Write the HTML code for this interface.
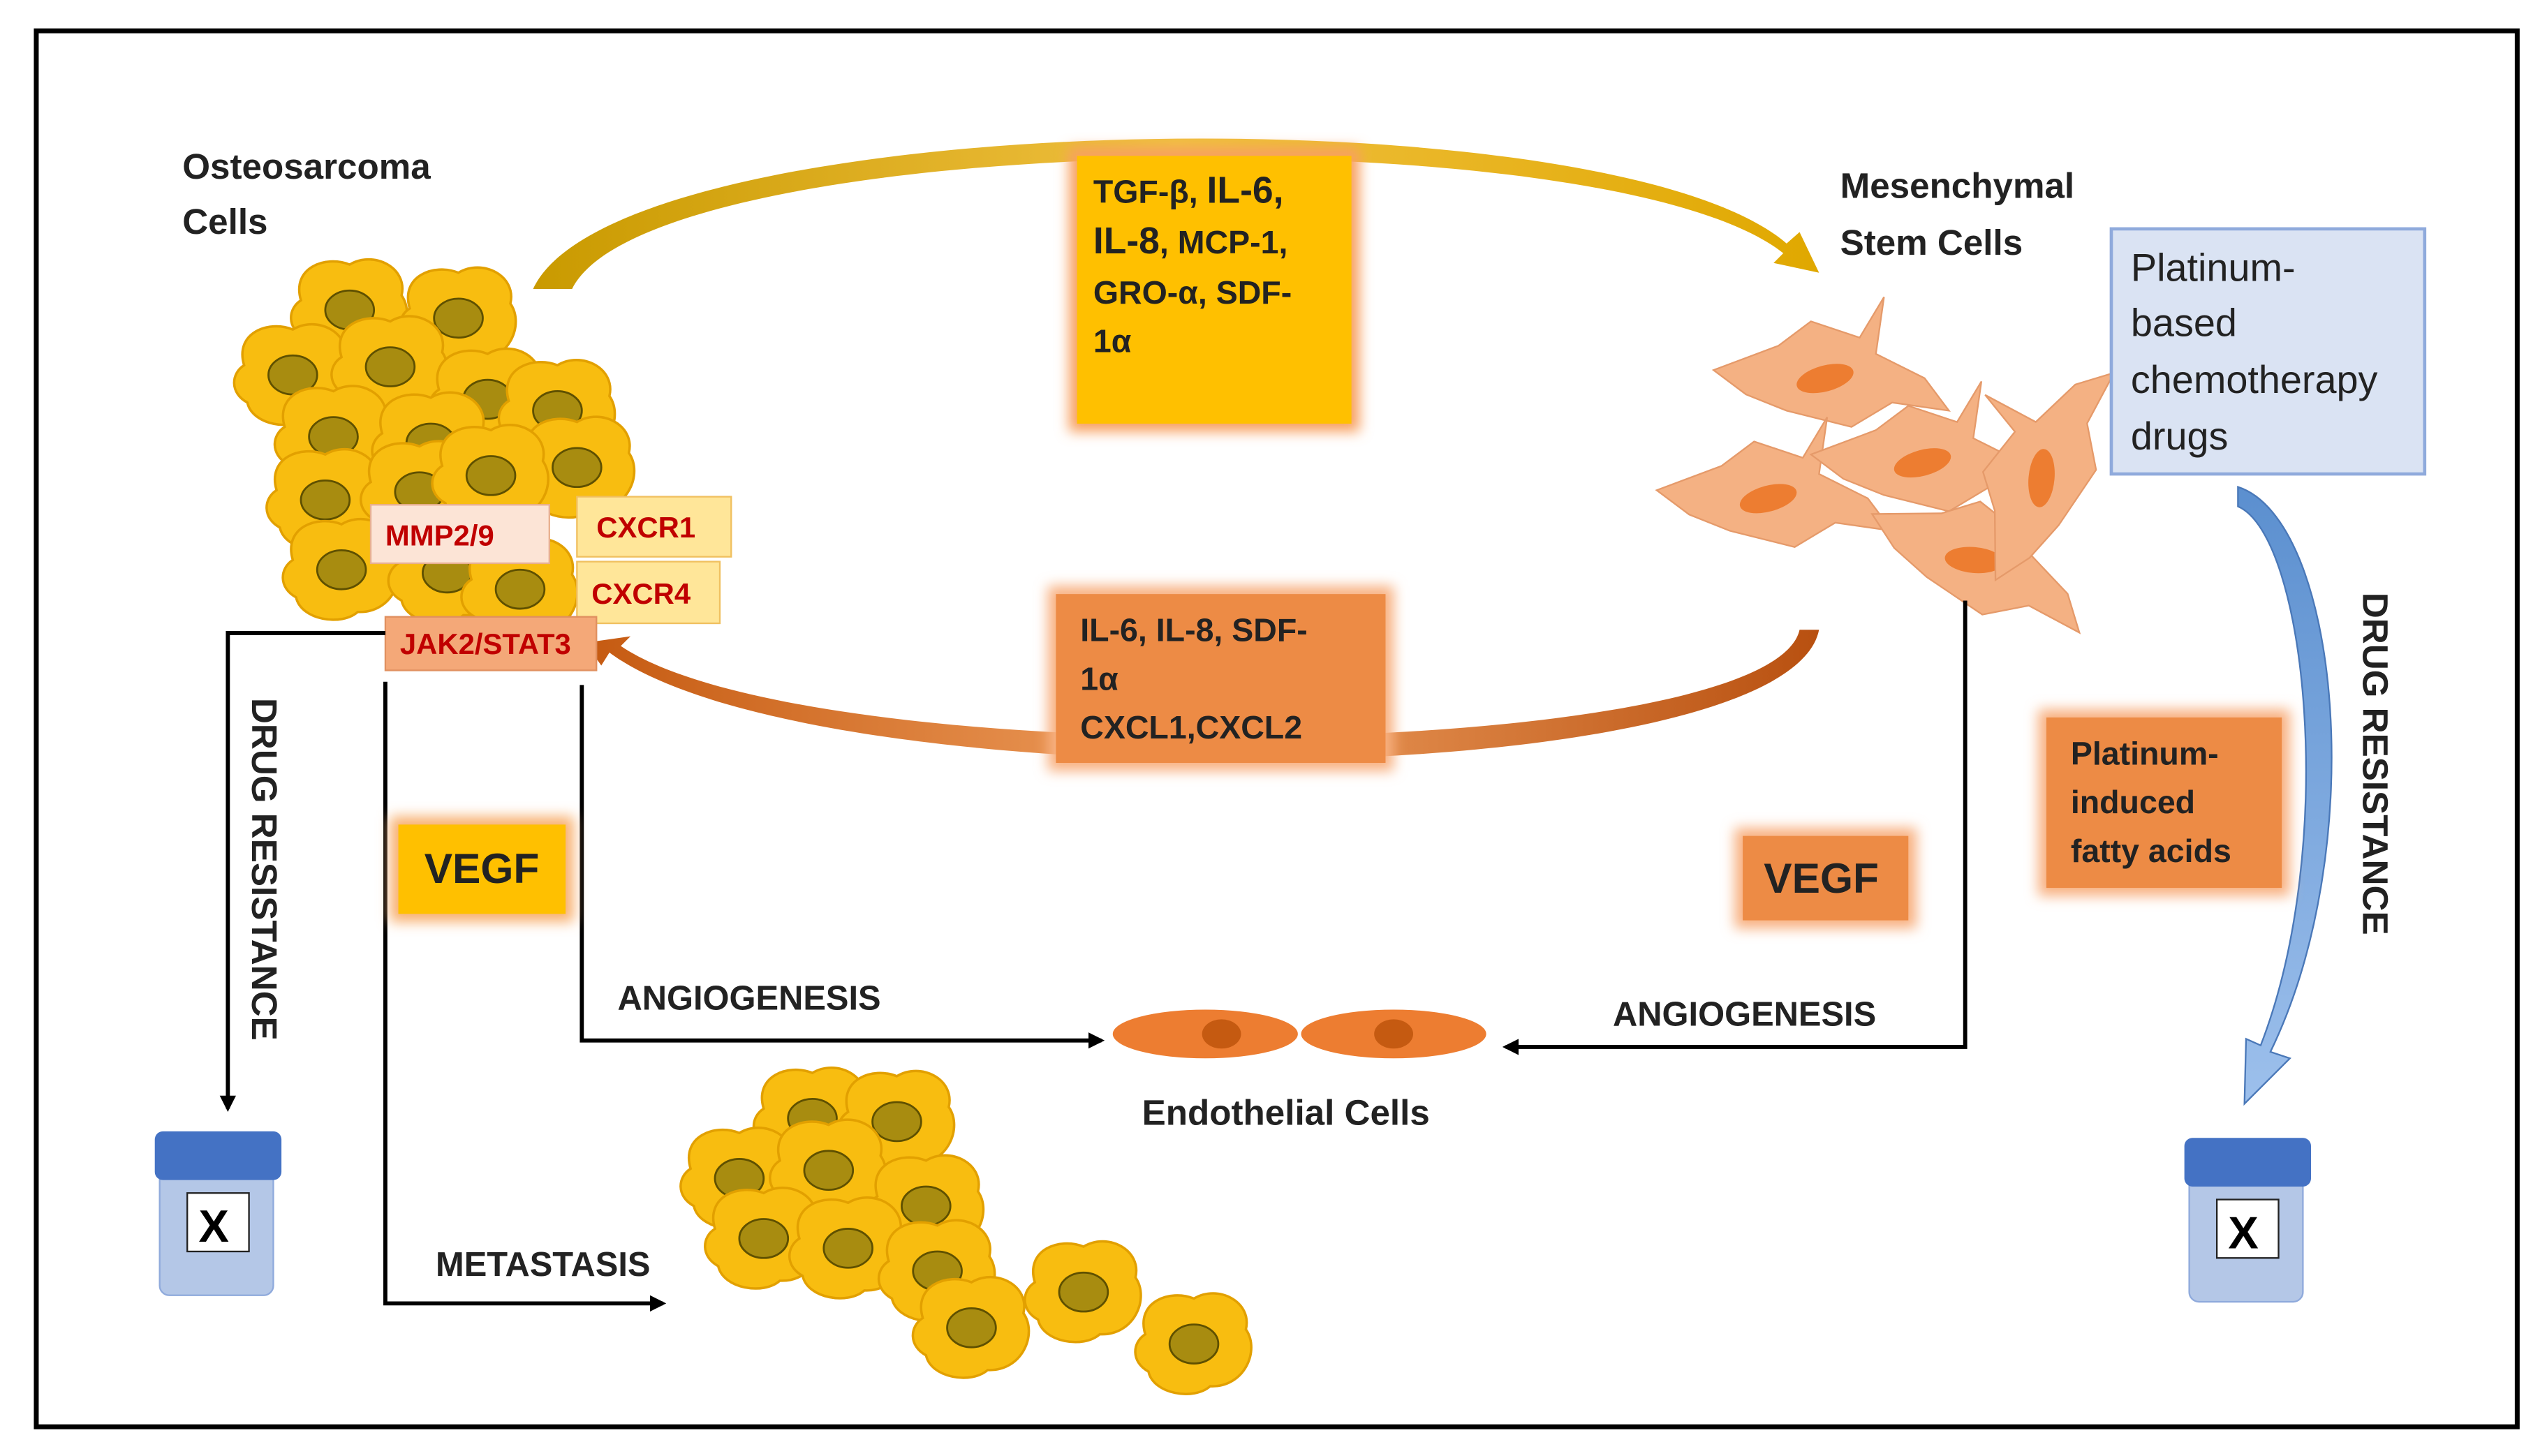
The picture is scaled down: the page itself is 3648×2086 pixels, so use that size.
<!DOCTYPE html>
<html><head><meta charset="utf-8"><style>
html,body{margin:0;padding:0;background:#fff;}
svg{display:block;}
text{font-family:"Liberation Sans",sans-serif;}
</style></head><body>
<svg width="3648" height="2086" viewBox="0 0 1568 897" xmlns="http://www.w3.org/2000/svg">
<defs>
<g id="cell">
<path d="M-30,-5 C-36,-25 -15,-33 0,-27 C15,-36 36,-25 32,-8 C41,5 31,28 10,27 C0,36 -25,32 -28,18 C-39,12 -38,0 -30,-5Z" fill="#f8bd10" stroke="#e2a000" stroke-width="1.5"/>
<ellipse cx="0" cy="1" rx="15" ry="12" fill="#a88c10" stroke="#5f5000" stroke-width="1.2"/>
</g>
<g id="scell">
<path d="M-70,-10 L-30,-25 L-10,-40 L20,-30 L35,-55 L30,-20 L60,-5 L75,15 L40,10 L15,25 L-25,15 L-50,5 Z" fill="#f4b183" stroke="#e59a6a" stroke-width="1"/>
<ellipse cx="0" cy="-5" rx="18" ry="8" transform="rotate(-15)" fill="#ed7d31"/>
</g>
<filter id="glow" x="-20%" y="-20%" width="140%" height="140%"><feGaussianBlur stdDeviation="4"/></filter>
<linearGradient id="gold" x1="0" x2="1"><stop offset="0" stop-color="#c99a00"/><stop offset="0.5" stop-color="#f0c040"/><stop offset="1" stop-color="#e0a800"/></linearGradient>
<linearGradient id="brown" x1="0" x2="1"><stop offset="0" stop-color="#c55a11"/><stop offset="0.5" stop-color="#f0a060"/><stop offset="1" stop-color="#b85010"/></linearGradient>
<linearGradient id="blue" x1="0" x2="0" y1="0" y2="1"><stop offset="0" stop-color="#5b8fcf"/><stop offset="1" stop-color="#9dc0ec"/></linearGradient>
<marker id="ah" markerWidth="10" markerHeight="10" refX="8" refY="5" orient="auto" markerUnits="userSpaceOnUse"><path d="M0,0 L10,5 L0,10 Z" fill="#000"/></marker>
</defs>

<rect x="22" y="19" width="1528" height="860" fill="#fff" stroke="#000" stroke-width="3"/>

<!-- top arrow -->
<path d="M328,178 C380,65 990,55 1100,150 L1108,143 L1120,168 L1092,162 L1098,156 C990,70 400,80 352,178 Z" fill="url(#gold)"/>
<!-- bottom arrow -->
<path d="M1120,388 C1100,490 500,495 375,402 L370,410 L360,396 L388,392 L382,398 C500,478 1090,470 1108,388 Z" fill="url(#brown)"/>
<!-- blue arrow -->
<path d="M1378,300 C1440,320 1460,520 1398,648 L1410,652 L1382,680 L1383,640 L1392,644 C1440,520 1420,330 1378,312 Z" fill="url(#blue)" stroke="#4a78b8" stroke-width="1"/>

<!-- osteosarcoma cluster -->
<use href="#cell" x="215" y="190"/><use href="#cell" x="282" y="195"/>
<use href="#cell" x="180" y="230"/><use href="#cell" x="240" y="225"/>
<use href="#cell" x="300" y="245"/><use href="#cell" x="343" y="252"/>
<use href="#cell" x="205" y="268"/><use href="#cell" x="265" y="272"/>
<use href="#cell" x="355" y="287"/><use href="#cell" x="200" y="307"/>
<use href="#cell" x="258" y="302"/><use href="#cell" x="302" y="292"/>
<use href="#cell" x="210" y="350"/><use href="#cell" x="275" y="352"/>
<use href="#cell" x="320" y="362"/>

<!-- metastasis cluster -->
<use href="#cell" x="500" y="688"/><use href="#cell" x="552" y="690"/>
<use href="#cell" x="455" y="725"/><use href="#cell" x="510" y="720"/>
<use href="#cell" x="570" y="742"/><use href="#cell" x="470" y="762"/>
<use href="#cell" x="522" y="768"/><use href="#cell" x="577" y="782"/>
<use href="#cell" x="598" y="817"/><use href="#cell" x="667" y="795"/>
<use href="#cell" x="735" y="827"/>

<!-- stem cells -->
<use href="#scell" x="1125" y="238"/>
<use href="#scell" x="1090" y="312"/>
<use href="#scell" x="1185" y="290"/>
<use href="#scell" x="1215" y="350" transform="rotate(20 1215 350)"/>
<use href="#scell" x="1262" y="295" transform="rotate(-70 1262 295)"/>

<!-- labels -->
<text x="112" y="110" font-size="22" font-weight="bold" fill="#222">Osteosarcoma</text>
<text x="112" y="144" font-size="22" font-weight="bold" fill="#222">Cells</text>
<text x="1133" y="122" font-size="22" font-weight="bold" fill="#222">Mesenchymal</text>
<text x="1133" y="157" font-size="22" font-weight="bold" fill="#222">Stem Cells</text>

<!-- TGF box -->
<rect x="658" y="91" width="179" height="175" fill="#f8a060" filter="url(#glow)"/>
<rect x="663" y="96" width="169" height="165" fill="#ffc000"/>
<g font-size="20" font-weight="bold" fill="#222">
<text x="673" y="125">TGF-β, <tspan font-size="23">IL-6,</tspan></text>
<text x="673" y="156"><tspan font-size="23">IL-8</tspan>, MCP-1,</text>
<text x="673" y="187">GRO-α, SDF-</text>
<text x="673" y="217">1α</text>
</g>

<!-- IL-6 box -->
<rect x="645" y="361" width="213" height="114" fill="#f8b080" filter="url(#glow)"/>
<rect x="650" y="366" width="203" height="104" fill="#ed8b45"/>
<g font-size="20" font-weight="bold" fill="#222">
<text x="665" y="395">IL-6, IL-8, SDF-</text>
<text x="665" y="425">1α</text>
<text x="665" y="455">CXCL1,CXCL2</text>
</g>

<!-- platinum box -->
<rect x="1300" y="141" width="193" height="151" fill="#dae3f3" stroke="#8faadc" stroke-width="2"/>
<g font-size="24" fill="#222">
<text x="1312" y="173">Platinum-</text>
<text x="1312" y="207">based</text>
<text x="1312" y="242">chemotherapy</text>
<text x="1312" y="277">drugs</text>
</g>

<!-- receptors -->
<rect x="228" y="311" width="110" height="36" fill="#fce4d6" stroke="#e8b090" stroke-width="1"/>
<text x="237" y="336" font-size="18" font-weight="bold" fill="#c00000">MMP2/9</text>
<rect x="355" y="306" width="95" height="37" fill="#ffe699" stroke="#f0c060" stroke-width="1"/>
<text x="367" y="331" font-size="18" font-weight="bold" fill="#c00000">CXCR1</text>
<rect x="355" y="346" width="88" height="38" fill="#ffe699" stroke="#f0c060" stroke-width="1"/>
<text x="364" y="372" font-size="18" font-weight="bold" fill="#c00000">CXCR4</text>
<rect x="237" y="380" width="130" height="33" fill="#f4a878" stroke="#e09060" stroke-width="1"/>
<text x="246" y="403" font-size="18" font-weight="bold" fill="#c00000">JAK2/STAT3</text>

<!-- connector lines -->
<g stroke="#000" stroke-width="2.5" fill="none">
<path d="M237,390 L140,390 L140,683" marker-end="url(#ah)"/>
<path d="M237,420 L237,803 L408,803" marker-end="url(#ah)"/>
<path d="M358,422 L358,641 L678,641" marker-end="url(#ah)"/>
<path d="M1210,370 L1210,645 L927,645" marker-end="url(#ah)"/>
</g>
<text transform="translate(155,430) rotate(90)" font-size="22" font-weight="bold" fill="#222">DRUG RESISTANCE</text>
<text transform="translate(1455,365) rotate(90)" font-size="22" font-weight="bold" fill="#222">DRUG RESISTANCE</text>
<text x="380" y="622" font-size="21" font-weight="bold" fill="#222">ANGIOGENESIS</text>
<text x="993" y="632" font-size="21" font-weight="bold" fill="#222">ANGIOGENESIS</text>
<text x="268" y="786" font-size="21" font-weight="bold" fill="#222">METASTASIS</text>

<!-- VEGF boxes -->
<rect x="240" y="503" width="113" height="65" fill="#f8b070" filter="url(#glow)"/>
<rect x="245" y="508" width="103" height="55" fill="#ffc000"/>
<text x="261" y="544" font-size="26" font-weight="bold" fill="#222">VEGF</text>
<rect x="1068" y="510" width="112" height="62" fill="#f8b080" filter="url(#glow)"/>
<rect x="1073" y="515" width="102" height="52" fill="#ed8b45"/>
<text x="1086" y="550" font-size="26" font-weight="bold" fill="#222">VEGF</text>

<!-- platinum induced -->
<rect x="1255" y="437" width="155" height="115" fill="#f8b080" filter="url(#glow)"/>
<rect x="1260" y="442" width="145" height="105" fill="#ed8b45"/>
<g font-size="20" font-weight="bold" fill="#222">
<text x="1275" y="471">Platinum-</text>
<text x="1275" y="501">induced</text>
<text x="1275" y="531">fatty acids</text>
</g>

<!-- endothelial -->
<ellipse cx="742" cy="637" rx="57" ry="15" fill="#ed7d31"/>
<ellipse cx="752" cy="637" rx="12" ry="9" fill="#c55a11"/>
<ellipse cx="858" cy="637" rx="57" ry="15" fill="#ed7d31"/>
<ellipse cx="858" cy="637" rx="12" ry="9" fill="#c55a11"/>
<text x="703" y="693" font-size="22" font-weight="bold" fill="#222">Endothelial Cells</text>

<!-- jars -->
<g>
<rect x="98" y="712" width="70" height="86" rx="6" fill="#b4c7e7" stroke="#8faadc"/>
<rect x="95" y="697" width="78" height="30" rx="5" fill="#4472c4"/>
<rect x="115" y="735" width="38" height="36" fill="#fff" stroke="#222"/>
<text x="122" y="765" font-size="28" font-weight="bold" fill="#000">X</text>
</g>
<g>
<rect x="1348" y="716" width="70" height="86" rx="6" fill="#b4c7e7" stroke="#8faadc"/>
<rect x="1345" y="701" width="78" height="30" rx="5" fill="#4472c4"/>
<rect x="1365" y="739" width="38" height="36" fill="#fff" stroke="#222"/>
<text x="1372" y="769" font-size="28" font-weight="bold" fill="#000">X</text>
</g>
</svg>
</body></html>
